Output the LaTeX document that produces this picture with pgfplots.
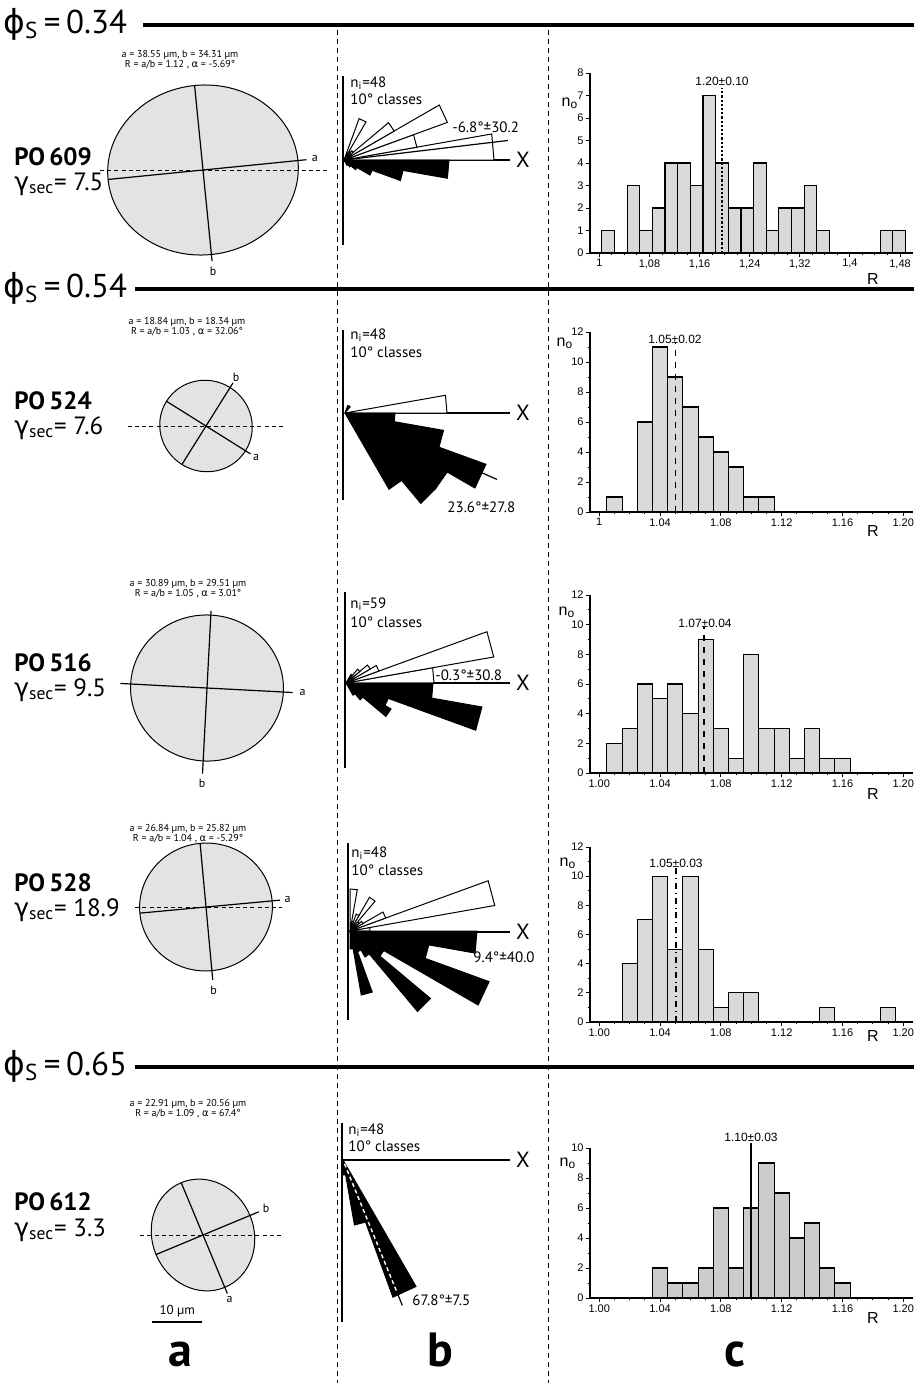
\documentclass[border=0pt]{standalone}
\usepackage{pgfplots}
\pgfplotsset{compat=1.18}
\usepgfplotslibrary{polar}
\usepackage{fontspec}
\setmainfont{PT Sans}
\newfontfamily\grk{DejaVu Sans}
\newfontfamily\ars{Liberation Sans}

\pgfplotsset{
  hist/.style={scale only axis, anchor=south west, width=161.5pt,
    axis x line*=bottom, axis y line*=left, tick align=outside,
    ymin=0, xmin=0.9939, xmax=1.2064, clip=false,
    major tick length=2pt, minor tick length=1.2pt,
    tick style={black, line width=0.5pt}, axis line style={line width=0.6pt},
    ticklabel style={font=\ars\fontsize{5.5}{6}\selectfont, inner sep=1pt},
    /pgf/number format/assume math mode=true,
    xtick={1,1.04,1.08,1.12,1.16,1.20},
    xticklabels={1.00,1.04,1.08,1.12,1.16,1.20},
    minor x tick num=3, minor y tick num=1},
  bars/.style={ybar, bar width=0.01, fill=gray!30, draw=black, line width=0.55pt},
  rose/.style={at={#1}, anchor=center, scale only axis, width=170pt, height=170pt,
    ymin=0, ymax=170, hide axis, clip=false},
  ell/.style={at={#1}, anchor=center, x=2.475pt, y=2.475pt,
    xmin=-30, xmax=30, ymin=-30, ymax=30, hide axis, clip=false},
  wh/.style={draw=black, fill=white, line width=0.5pt},
  bk/.style={draw=black, fill=black, line width=0.5pt},
}
\newcommand{\rw}[4]{\addplot[#1] coordinates {(0,0) (#2,#4) (#3,#4) (0,0)};}
\newcommand{\ellfont}{\fontsize{6}{6}\selectfont}

\begin{document}
\begin{tikzpicture}
\begin{scope}[x=0.5pt, y=-0.5pt]
\path[use as bounding box] (0,0) rectangle (914,1383);
% column dividers
\draw[line width=0.5pt, dash pattern=on 2.5pt off 2pt] (337,30) -- (337,1383);
\draw[line width=0.5pt, dash pattern=on 2.5pt off 2pt] (548,30) -- (548,1383);
% headers
\draw[line width=2pt] (143,25) -- (914,25);
\draw[line width=2pt] (135,289) -- (914,289);
\draw[line width=2pt] (135,1067) -- (914,1067);
\node[anchor=west, font=\fontsize{16.5}{17}\selectfont, inner sep=0] at (3,24) {{\grk ϕ}\textsubscript{S}\,=\,0.34};
\node[anchor=west, font=\fontsize{16.5}{17}\selectfont, inner sep=0] at (3,288) {{\grk ϕ}\textsubscript{S}\,=\,0.54};
\node[anchor=west, font=\fontsize{16.5}{17}\selectfont, inner sep=0] at (3,1066) {{\grk ϕ}\textsubscript{S}\,=\,0.65};
% sample labels
\foreach \nm/\g/\ya/\yb in {609/7.5/157/184, 524/7.6/401/428, 516/9.5/663/690, 528/18.9/883/910, 612/3.3/1202/1230}{
  \node[anchor=west, font=\bfseries\fontsize{12.5}{13}\selectfont, inner sep=0] at (14,\ya) {PO\,\nm};
  \node[anchor=west, font=\fontsize{12.5}{13}\selectfont, inner sep=0] at (14,\yb) {{\grk γ}\textsubscript{sec}= \g};
}
% ellipse texts
\node[font=\fontsize{5}{5}\selectfont, align=center, inner sep=0] at (180,60) {a = 38.55 µm, b = 34.31 µm\\R = a/b = 1.12 , {\grk α} = -5.69°};
\node[font=\fontsize{5}{5}\selectfont, align=center, inner sep=0] at (187,327) {a = 18.84 µm, b = 18.34 µm\\R = a/b = 1.03 , {\grk α} = 32.06°};
\node[font=\fontsize{5}{5}\selectfont, align=center, inner sep=0] at (188,589) {a = 30.89 µm, b = 29.51 µm\\R = a/b = 1.05 , {\grk α} = 3.01°};
\node[font=\fontsize{5}{5}\selectfont, align=center, inner sep=0] at (188,834) {a = 26.84 µm, b = 25.82 µm\\R = a/b = 1.04 , {\grk α} = -5.29°};
\node[font=\fontsize{5}{5}\selectfont, align=center, inner sep=0] at (188,1109) {a = 22.91 µm, b = 20.56 µm\\R = a/b = 1.09 , {\grk α} = 67.4°};
% rose frames
\draw[line width=0.65pt] (343,76) -- (343,245);  \draw[line width=0.65pt] (344,160) -- (510,160);
\draw[line width=0.65pt] (343,330) -- (343,500); \draw[line width=0.65pt] (345,413) -- (510,413);
\draw[line width=0.65pt] (345,592) -- (345,768); \draw[line width=0.65pt] (346,683) -- (510,683);
\draw[line width=0.65pt] (348,843) -- (348,1020);\draw[line width=0.65pt] (350,932) -- (510,932);
\draw[line width=0.65pt] (342,1123) -- (342,1322);\draw[line width=0.65pt] (343,1160) -- (510,1160);
\foreach \y in {160,413,683,932,1160}{\node[font=\fontsize{11}{11}\selectfont, inner sep=0] at (523,\y) {X};}
\node[anchor=west, font=\fontsize{7.5}{8}\selectfont, inner sep=0] at (350,83) {n\textsubscript{i}=48};
\node[anchor=west, font=\fontsize{7.5}{8}\selectfont, inner sep=0] at (350,99) {10° classes};
\node[anchor=west, font=\fontsize{7.5}{8}\selectfont, inner sep=0] at (350,335) {n\textsubscript{i}=48};
\node[anchor=west, font=\fontsize{7.5}{8}\selectfont, inner sep=0] at (350,352) {10° classes};
\node[anchor=west, font=\fontsize{7.5}{8}\selectfont, inner sep=0] at (350,604) {n\textsubscript{i}=59};
\node[anchor=west, font=\fontsize{7.5}{8}\selectfont, inner sep=0] at (350,622) {10° classes};
\node[anchor=west, font=\fontsize{7.5}{8}\selectfont, inner sep=0] at (351,853) {n\textsubscript{i}=48};
\node[anchor=west, font=\fontsize{7.5}{8}\selectfont, inner sep=0] at (351,870) {10° classes};
\node[anchor=west, font=\fontsize{7.5}{8}\selectfont, inner sep=0] at (348,1130) {n\textsubscript{i}=48};
\node[anchor=west, font=\fontsize{7.5}{8}\selectfont, inner sep=0] at (348,1146) {10° classes};
\node[anchor=west, font=\fontsize{7.5}{8}\selectfont, inner sep=0] at (452,127) {-6.8°±30.2};
\node[anchor=west, font=\fontsize{7.5}{8}\selectfont, inner sep=0] at (447,507) {23.6°±27.8};
\node[anchor=west, font=\fontsize{7.5}{8}\selectfont, inner sep=0] at (435,675) {-0.3°±30.8};
\node[anchor=west, font=\fontsize{7.5}{8}\selectfont, inner sep=0] at (473,957) {9.4°±40.0};
\node[anchor=west, font=\fontsize{7.5}{8}\selectfont, inner sep=0] at (412,1300) {67.8°±7.5};
\draw[line width=0.5pt] (474,932) -- (474,952);
% histogram labels
\foreach \x/\y in {570/103, 565/343, 567/612, 568/863, 568/1163}{\node[font=\ars\fontsize{8}{8}\selectfont, inner sep=0] at (\x,\y) {n\textsubscript{o}};}
\foreach \y in {279, 531, 794, 1036, 1318}{\node[font=\ars\fontsize{8}{8}\selectfont, inner sep=0] at (873,\y) {R};}
\node[font=\ars\fontsize{6}{6}\selectfont, inner sep=0] at (722,81) {1.20±0.10};
\node[font=\ars\fontsize{6}{6}\selectfont, inner sep=0] at (675,339) {1.05±0.02};
\node[font=\ars\fontsize{6}{6}\selectfont, inner sep=0] at (705,623) {1.07±0.04};
\node[font=\ars\fontsize{6}{6}\selectfont, inner sep=0] at (676,863) {1.05±0.03};
\node[font=\ars\fontsize{6}{6}\selectfont, inner sep=0] at (751,1137) {1.10±0.03};
% bottom letters
\node[anchor=base, font=\bfseries\fontsize{24}{24}\selectfont, inner sep=0] at (180,1366) {a};
\node[anchor=base, font=\bfseries\fontsize{24}{24}\selectfont, inner sep=0] at (440,1366) {b};
\node[anchor=base, font=\bfseries\fontsize{24}{24}\selectfont, inner sep=0] at (735,1366) {c};
\end{scope}

% ===== ellipses =====
\begin{axis}[ell={(101.5pt,-85pt)}]
\draw[fill=gray!22, line width=0.5pt, rotate around={5.69:(axis cs:0,0)}] (axis cs:0,0) ellipse [x radius=19.275, y radius=17.155];
\addplot[line width=0.5pt, dash pattern=on 2pt off 1.6pt] coordinates {(-20.8,0) (25.7,0)};
\addplot[line width=0.6pt] coordinates {(-19.18,-1.911) (20.90,2.082)};
\addplot[line width=0.6pt] coordinates {(-1.701,17.07) (1.834,-18.41)};
\node[font=\ellfont] at (axis cs:22.6,2.3) {a};
\node[font=\ellfont] at (axis cs:2.05,-20.4) {b};
\end{axis}
\begin{axis}[ell={(103pt,-213pt)}]
\draw[fill=gray!22, line width=0.5pt, rotate around={-32.06:(axis cs:0,0)}] (axis cs:0,0) ellipse [x radius=9.42, y radius=9.17];
\addplot[line width=0.5pt, dash pattern=on 2pt off 1.6pt] coordinates {(-15.8,0) (15.6,0)};
\addplot[line width=0.6pt] coordinates {(-7.983,5.0) (8.98,-5.63)};
\addplot[line width=0.6pt] coordinates {(-4.867,-7.772) (5.467,8.729)};
\node[font=\ellfont] at (axis cs:10.1,-6.3) {a};
\node[font=\ellfont] at (axis cs:6.1,9.75) {b};
\end{axis}
\begin{axis}[ell={(103.5pt,-344pt)}]
\draw[fill=gray!22, line width=0.5pt, rotate around={-3.01:(axis cs:0,0)}] (axis cs:0,0) ellipse [x radius=15.445, y radius=14.755];
\addplot[line width=0.6pt] coordinates {(-17.48,0.919) (17.28,-0.908)};
\addplot[line width=0.6pt] coordinates {(0.82,15.6) (-0.908,-17.28)};
\node[font=\ellfont] at (axis cs:19.3,-1.0) {a};
\node[font=\ellfont] at (axis cs:-1.01,-19.3) {b};
\end{axis}
\begin{axis}[ell={(103pt,-453.5pt)}]
\draw[fill=gray!22, line width=0.5pt, rotate around={5.29:(axis cs:0,0)}] (axis cs:0,0) ellipse [x radius=13.42, y radius=12.91];
\addplot[line width=0.5pt, dash pattern=on 2pt off 1.6pt] coordinates {(-14.3,0) (15.4,0)};
\addplot[line width=0.6pt] coordinates {(-13.36,-1.237) (14.94,1.383)};
\addplot[line width=0.6pt] coordinates {(-1.19,12.85) (1.365,-14.74)};
\node[font=\ellfont] at (axis cs:16.5,1.55) {a};
\node[font=\ellfont] at (axis cs:1.55,-16.8) {b};
\end{axis}
\begin{axis}[ell={(101.5pt,-617.5pt)}]
\draw[fill=gray!22, line width=0.5pt, rotate around={-67.4:(axis cs:0,0)}] (axis cs:0,0) ellipse [x radius=11.455, y radius=10.28];
\addplot[line width=0.5pt, dash pattern=on 2pt off 1.6pt] coordinates {(-12.7,0) (16.0,0)};
\addplot[line width=0.6pt] coordinates {(-4.402,10.575) (4.919,-11.82)};
\addplot[line width=0.6pt] coordinates {(-9.49,-3.95) (11.26,4.69)};
\node[font=\ellfont] at (axis cs:5.38,-12.95) {a};
\node[font=\ellfont] at (axis cs:12.74,5.3) {b};
\addplot[line width=1.1pt] coordinates {(-10.3,-17.6) (-0.3,-17.6)};
\node[font=\fontsize{6.5}{7}\selectfont] at (axis cs:-5.2,-15.3) {10 µm};
\end{axis}

% ===== rose diagrams =====
\begin{polaraxis}[rose={(172pt,-80pt)}]
\rw{wh}{0}{10}{150} \rw{wh}{10}{20}{74} \rw{wh}{20}{30}{110} \rw{wh}{30}{40}{58}
\rw{wh}{40}{50}{12} \rw{wh}{50}{60}{10} \rw{wh}{60}{70}{44}
\rw{bk}{-10}{0}{105} \rw{bk}{-20}{-10}{60} \rw{bk}{-30}{-20}{30} \rw{bk}{-40}{-30}{15}
\rw{bk}{-50}{-40}{9} \rw{bk}{-60}{-50}{6}
\addplot[line width=0.6pt] coordinates {(0,0) (6.8,165)};
\end{polaraxis}
\begin{polaraxis}[rose={(172.5pt,-206.5pt)}]
\rw{wh}{0}{10}{102} \rw{wh}{50}{60}{8} \rw{wh}{60}{70}{8}
\rw{bk}{-10}{0}{50} \rw{bk}{-20}{-10}{100} \rw{bk}{-30}{-20}{150} \rw{bk}{-40}{-30}{118}
\rw{bk}{-50}{-40}{118} \rw{bk}{-60}{-50}{88}
\addplot[line width=0.6pt] coordinates {(0,0) (-23.6,166)};
\end{polaraxis}
\begin{polaraxis}[rose={(173pt,-341.5pt)}]
\rw{wh}{0}{10}{88} \rw{wh}{10}{20}{150} \rw{wh}{20}{30}{35} \rw{wh}{30}{40}{28}
\rw{wh}{40}{50}{18} \rw{wh}{50}{60}{10}
\rw{bk}{-10}{0}{87} \rw{bk}{-20}{-10}{138} \rw{bk}{-30}{-20}{45} \rw{bk}{-40}{-30}{52}
\rw{bk}{-50}{-40}{22} \rw{bk}{-60}{-50}{14}
\end{polaraxis}
\begin{polaraxis}[rose={(175pt,-465.5pt)}]
\rw{wh}{0}{10}{20} \rw{wh}{10}{20}{147} \rw{wh}{20}{30}{38} \rw{wh}{30}{40}{15}
\rw{wh}{40}{50}{12} \rw{wh}{50}{60}{39} \rw{wh}{60}{70}{18} \rw{wh}{70}{80}{10} \rw{wh}{80}{90}{42}
\rw{bk}{-10}{0}{127} \rw{bk}{-20}{-10}{80} \rw{bk}{-30}{-20}{148} \rw{bk}{-40}{-30}{39}
\rw{bk}{-50}{-40}{105} \rw{bk}{-60}{-50}{30} \rw{bk}{-70}{-60}{22} \rw{bk}{-80}{-70}{65} \rw{bk}{-90}{-80}{18}
\end{polaraxis}
\begin{polaraxis}[rose={(171.5pt,-580pt)}]
\rw{bk}{-70}{-60}{146} \rw{bk}{-80}{-70}{66} \rw{bk}{-90}{-80}{15}
\addplot[white, line width=0.7pt, dash pattern=on 2pt off 1.5pt] coordinates {(-67.8,4) (-67.8,144)};
\addplot[black, line width=0.6pt] coordinates {(-67.8,146) (-67.8,157)};
\end{polaraxis}

% ===== histograms =====
\begin{axis}[hist, at={(295pt,-126.5pt)}, height=90pt, xmin=0.985, xmax=1.5007, ymax=8,
  xtick={1,1.08,1.16,1.24,1.32,1.40,1.48},
  xticklabels={1,{1,08},{1,16},{1,24},{1,32},{1,4},{1,48}},
  ytick={0,1,...,8}, minor y tick num=0]
\addplot[bars, bar width=0.0202] coordinates {
(1.0139,1) (1.0543,3) (1.0745,1) (1.0947,2) (1.1149,4) (1.1351,4) (1.1553,3)
(1.1755,7) (1.1957,4) (1.2159,2) (1.2361,2) (1.2563,4) (1.2765,1) (1.2967,2)
(1.3169,2) (1.3371,3) (1.3573,1) (1.4583,1) (1.4785,1)};
\addplot[densely dotted, line width=1.1pt] coordinates {(1.196,0) (1.196,7.33)};
\end{axis}
\begin{axis}[hist, at={(295pt,-256pt)}, height=90pt, ymax=12, ytick={0,2,...,12},
  xticklabels={1,1.04,1.08,1.12,1.16,1.20}]
\addplot[bars] coordinates {
(1.01,1) (1.03,6) (1.04,11) (1.05,9) (1.06,7) (1.07,5) (1.08,4) (1.09,3) (1.10,1) (1.11,1)};
\addplot[dashed, line width=0.7pt] coordinates {(1.05,0) (1.05,11.33)};
\end{axis}
\begin{axis}[hist, at={(295pt,-386.5pt)}, height=89pt, ymax=12, ytick={0,2,...,12}]
\addplot[bars] coordinates {
(1.01,2) (1.02,3) (1.03,6) (1.04,5) (1.05,6) (1.06,4) (1.07,9) (1.08,3)
(1.09,1) (1.10,8) (1.11,3) (1.12,3) (1.13,1) (1.14,3) (1.15,1) (1.16,1)};
\addplot[dashed, line width=0.7pt] coordinates {(1.069,0) (1.069,9.84)};
\end{axis}
\begin{axis}[hist, at={(295pt,-511pt)}, height=87.5pt, ymax=12, ytick={0,2,...,12}]
\addplot[bars] coordinates {
(1.02,4) (1.03,7) (1.04,10) (1.05,5) (1.06,10) (1.07,5) (1.08,1) (1.09,2) (1.10,2) (1.15,1) (1.19,1)};
\addplot[dash dot, line width=0.7pt] coordinates {(1.0505,0) (1.0505,10.56)};
\end{axis}
\begin{axis}[hist, at={(295pt,-649pt)}, height=75pt, ymax=10, ytick={0,2,...,10}]
\addplot[bars, fill=gray!40] coordinates {
(1.04,2) (1.05,1) (1.06,1) (1.07,2) (1.08,6) (1.09,2) (1.10,6) (1.11,9)
(1.12,7) (1.13,4) (1.14,5) (1.15,2) (1.16,1)};
\addplot[line width=0.7pt] coordinates {(1.0998,0) (1.0998,10.33)};
\end{axis}
\end{tikzpicture}
\end{document}
